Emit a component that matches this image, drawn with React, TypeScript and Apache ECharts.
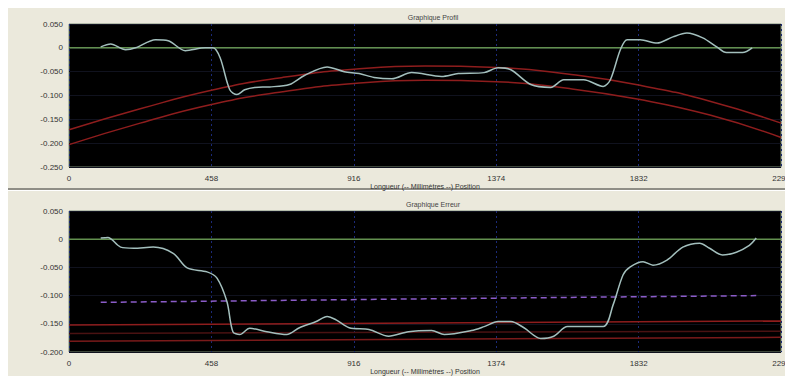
import React, { useEffect, useRef } from "react";
import * as echarts from "echarts";

const xTicks = [0, 458, 916, 1374, 1832, 2290];
const topTitle = "Graphique Profil";
const bottomTitle = "Graphique Erreur";
const axisTitle = "Longueur (-- Millimètres --) Position";

// Top panel: measured profile
const profileX = [102, 134, 182, 214, 278, 319, 374, 438, 463, 486, 517, 540, 565, 597, 645, 709, 757, 830, 885, 933, 981, 1038, 1102, 1198, 1252, 1335, 1380, 1421, 1485, 1549, 1591, 1655, 1718, 1741, 1773, 1795, 1837, 1891, 1942, 1987, 2038, 2083, 2114, 2166, 2197];
const profileY = [0.002, 0.008, -0.004, 0.0, 0.017, 0.015, -0.006, 0.0, 0.0, -0.021, -0.088, -0.098, -0.088, -0.083, -0.082, -0.077, -0.058, -0.04, -0.05, -0.054, -0.062, -0.065, -0.052, -0.06, -0.054, -0.052, -0.042, -0.046, -0.077, -0.083, -0.067, -0.067, -0.081, -0.067, -0.004, 0.017, 0.017, 0.01, 0.023, 0.031, 0.021, 0.002, -0.01, -0.01, 0.0];

// Top panel: tolerance curves
const tolX = [0, 229, 458, 687, 916, 1145, 1374, 1603, 1832, 2061, 2290];
const tolUpper = [-0.172, -0.128, -0.089, -0.062, -0.045, -0.038, -0.041, -0.055, -0.078, -0.112, -0.158];
const tolLower = [-0.203, -0.158, -0.119, -0.092, -0.075, -0.068, -0.071, -0.085, -0.108, -0.141, -0.188];

// Bottom panel: error
const errX = [102, 125, 166, 208, 271, 335, 380, 444, 476, 508, 527, 549, 581, 636, 700, 741, 795, 830, 859, 901, 965, 1028, 1092, 1166, 1207, 1294, 1335, 1380, 1421, 1463, 1517, 1559, 1603, 1718, 1750, 1782, 1805, 1846, 1878, 1923, 1974, 2028, 2060, 2102, 2146, 2188, 2210];
const errY = [0.002, 0.003, -0.014, -0.016, -0.014, -0.025, -0.051, -0.058, -0.069, -0.111, -0.164, -0.169, -0.158, -0.164, -0.169, -0.157, -0.146, -0.137, -0.143, -0.157, -0.16, -0.172, -0.164, -0.162, -0.169, -0.162, -0.155, -0.146, -0.146, -0.157, -0.176, -0.172, -0.155, -0.155, -0.116, -0.063, -0.049, -0.04, -0.046, -0.037, -0.014, -0.007, -0.016, -0.028, -0.023, -0.011, 0.002];

const meanX = [102, 1100, 2210];
const meanY = [-0.112, -0.106, -0.1];

const limX = [0, 2290];
const limUpper = [-0.152, -0.145];
const limMid = [-0.167, -0.163];
const limLower = [-0.181, -0.174];

const zip = (xs: number[], ys: number[]) => xs.map((x, i) => [x, ys[i]]);

const FONT = "Liberation Sans, Arial, sans-serif";

export default function App() {
  const ref = useRef<HTMLDivElement>(null);
  useEffect(() => {
    if (!ref.current) return;
    const chart = echarts.init(ref.current, null, { renderer: "svg" });
    const yFmt = (v: number) => (Math.abs(v) < 1e-9 ? "0" : v.toFixed(3));
    const xAxisBase = (gi: number) => ({
      type: "value",
      gridIndex: gi,
      min: xTicks[0],
      max: xTicks[xTicks.length - 1],
      interval: xTicks[1] - xTicks[0],
      axisLine: { show: false },
      axisTick: { show: false },
      axisLabel: { fontSize: 8, color: "#333", margin: 7, fontFamily: FONT, formatter: (v: number) => String(v) },
      splitLine: { show: true, lineStyle: { color: "#1c2a78", type: [2, 3], width: 1 } },
      name: axisTitle,
      nameLocation: "middle",
      nameGap: 16,
      nameTextStyle: { fontSize: 7, color: "#333", fontFamily: FONT },
    });
    const yAxisBase = (gi: number, min: number, max: number) => ({
      type: "value",
      gridIndex: gi,
      min,
      max,
      interval: 0.05,
      axisLine: { show: false },
      axisTick: { show: false },
      axisLabel: { fontSize: 8, color: "#333", margin: 6, formatter: yFmt, fontFamily: FONT },
      splitLine: { show: true, lineStyle: { color: "#10121e", width: 1 } },
    });
    const line = (xi: number, data: number[][], color: string, width: number, extra: any = {}) => ({
      type: "line",
      xAxisIndex: xi,
      yAxisIndex: xi,
      data,
      symbol: "none",
      lineStyle: { color, width },
      silent: true,
      ...extra,
    });
    chart.setOption({
      animation: false,
      backgroundColor: "#ebe9dc",
      grid: [
        { left: 61, top: 16, width: 716, height: 143, show: true, backgroundColor: "#000", borderColor: "#7d8f78", borderWidth: 1 },
        { left: 61, top: 203, width: 716, height: 142, show: true, backgroundColor: "#000", borderColor: "#7d8f78", borderWidth: 1 },
      ],
      title: [
        { text: topTitle, left: 420, top: 1, textAlign: "center", textStyle: { fontSize: 7, color: "#444", fontWeight: "normal", fontFamily: FONT } },
        { text: bottomTitle, left: 420, top: 188, textAlign: "center", textStyle: { fontSize: 7, color: "#444", fontWeight: "normal", fontFamily: FONT } },
      ],
      graphic: [
        { type: "rect", shape: { x: 0, y: 180, width: 785, height: 2 }, style: { fill: "#8f8e86" }, silent: true },
        { type: "rect", shape: { x: 0, y: 182, width: 785, height: 1 }, style: { fill: "#ffffff" }, silent: true },
      ],
      xAxis: [xAxisBase(0), xAxisBase(1)],
      yAxis: [yAxisBase(0, -0.25, 0.05), yAxisBase(1, -0.2, 0.05)],
      series: [
        line(0, [[0, 0], [2290, 0]], "#62904f", 1.5),
        line(0, zip(tolX, tolUpper), "#8e1d1d", 1.5, { smooth: true }),
        line(0, zip(tolX, tolLower), "#8e1d1d", 1.5, { smooth: true }),
        line(0, zip(profileX, profileY), "#a3bfbd", 1.5, { smooth: 0.3 }),
        line(1, [[0, 0], [2290, 0]], "#62904f", 1.5),
        line(1, zip(limX, limUpper), "#8e1d1d", 1.5),
        line(1, zip(limX, limMid), "#4a1212", 1.5),
        line(1, zip(limX, limLower), "#7a1a1a", 1.5),
        line(1, zip(meanX, meanY), "#8b5cc8", 1.5, { lineStyle: { color: "#8b5cc8", width: 1.5, type: [6, 4] } }),
        line(1, zip(errX, errY), "#a3bfbd", 1.5, { smooth: 0.3 }),
      ],
    });
    return () => chart.dispose();
  }, []);
  return <div ref={ref} style={{ width: 785, height: 368 }} />;
}
